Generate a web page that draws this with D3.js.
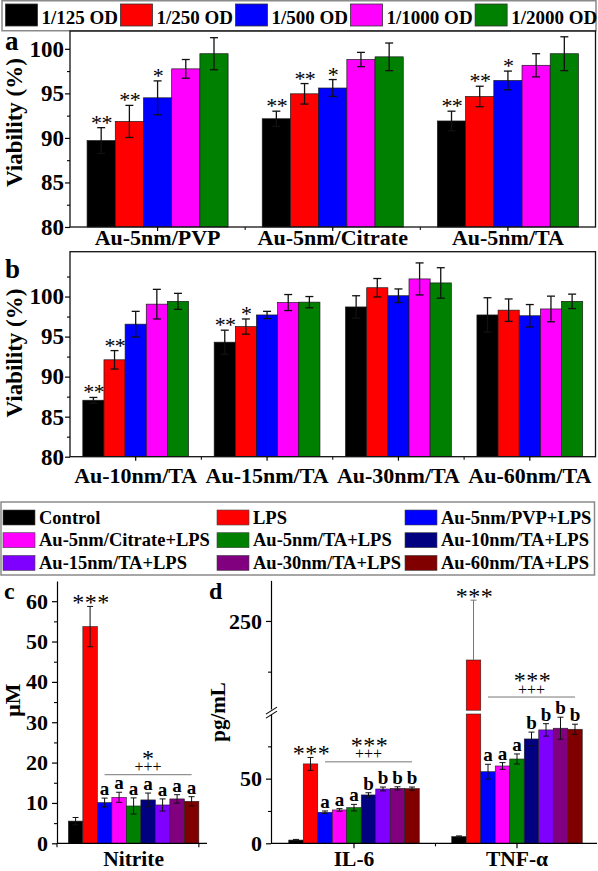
<!DOCTYPE html>
<html><head><meta charset="utf-8">
<script src="https://cdn.jsdelivr.net/npm/d3@7"></script>
<style>body{margin:0;background:#fff}svg{display:block}</style>
</head><body><svg id="c" width="598" height="871"></svg>
<script>
// ---------- data ----------
const odLabels = ["1/125 OD","1/250 OD","1/500 OD","1/1000 OD","1/2000 OD"];
const odColors = ["#000000","#ff0000","#0000ff","#ff00ff","#008000"];

const catsA = ["Au-5nm/PVP","Au-5nm/Citrate","Au-5nm/TA"];
const viabA = [[89.7,91.85,94.5,97.75,99.45],[92.15,94.95,95.6,98.8,99.1],[91.9,94.65,96.45,98.15,99.45]];
const errA  = [[1.45,1.8,1.9,1.05,1.8],[0.85,1.15,0.95,0.8,1.55],[1.1,1.15,1.05,1.3,1.9]];
const sigA  = [["**","**","*","",""],["**","**","*","",""],["**","**","*","",""]];

const catsB = ["Au-10nm/TA","Au-15nm/TA","Au-30nm/TA","Au-60nm/TA"];
const viabB = [[87.05,92.1,96.55,99.05,99.4],[94.3,96.25,97.7,99.25,99.3],[98.7,101.1,100.1,102.2,101.7],[97.7,98.3,97.6,98.45,99.4]];
const errB  = [[0.35,1.15,1.6,1.85,1.0],[1.5,0.95,0.45,1.0,0.7],[1.4,1.15,0.85,2.0,1.9],[2.15,1.4,1.4,1.6,0.9]];
const sigB  = [["**","**","","",""],["**","*","","",""],["","","","",""],["","","","",""]];
const viabTicks = [80,85,90,95,100];

const treatments = ["Control","LPS","Au-5nm/PVP+LPS","Au-5nm/Citrate+LPS","Au-5nm/TA+LPS","Au-10nm/TA+LPS","Au-15nm/TA+LPS","Au-30nm/TA+LPS","Au-60nm/TA+LPS"];
const treatColors = ["#000000","#ff0000","#0000ff","#ff00ff","#008000","#000080","#8000ff","#800080","#800000"];

const nitrite      = [5.5,53.7,10.1,11.4,9.25,10.75,9.5,11.0,10.4];
const nitriteErr   = [0.9,5.0,1.1,1.25,2.0,1.7,1.5,1.05,1.15];
const nitriteLetters = ["","","a","a","a","a","a","a","a"];
const nitriteGroup = {top:"*", mid:"+++", lineVal:17};

const cytokines = ["IL-6","TNF-α"];
const il6      = [2.5,61.4,24.0,25.8,27.6,37.4,42.0,42.5,42.3];
const il6Err   = [0.5,5.0,1.0,1.0,2.5,1.7,1.5,1.2,1.2];
const il6Letters = ["","","a","a","a","b","b","b","b"];
const il6Group = {top:"***", mid:"+++", lineVal:63};
const tnf      = [5.2,211.5,55.4,59.8,65.2,80.7,87.7,89.0,88.2];
const tnfErr   = [0.5,59.0,5.7,2.6,3.9,5.3,4.8,8.5,3.9];
const tnfLetters = ["","","a","a","a","b","b","b","b"];
const tnfGroup = {top:"***", mid:"+++", lineVal:175};

// ---------- drawing ----------
const F = "'Liberation Serif','Times New Roman',serif";
const svg = d3.select("#c").attr("font-family", F);

function txt(g, x, y, s, size, opt={}) {
  const t = g.append("text").attr("x",x).attr("y",y).attr("font-size",size)
    .attr("text-anchor",opt.anchor||"start").attr("font-weight",opt.bold===false?"normal":"bold").attr("fill","#000").text(s);
  if (opt.ls !== undefined) t.attr("letter-spacing",opt.ls);
  if (opt.rot) t.attr("transform",`rotate(-90,${x},${y})`);
  return t;
}

// top legend
(function(){
  const g = svg.append("g");
  g.append("rect").attr("x",2).attr("y",0.75).attr("width",594).attr("height",30).attr("fill","none").attr("stroke","#8a8a8a").attr("stroke-width",1.5);
  let x = 5.5;
  odLabels.forEach((l,i)=>{
    g.append("rect").attr("x",x).attr("y",4).attr("width",32).attr("height",22).attr("fill",odColors[i]).attr("stroke","#333").attr("stroke-width",0.8);
    const t = txt(g, x+36, 23.5, l, 19);
    x = x + 36 + t.node().getComputedTextLength() + 2.5;
  });
})();

function drawAB(cats, vals, errs, sigs, dom, L, R, T, B, labelPad, minorTicks) {
  const g = svg.append("g");
  const y = d3.scaleLinear(dom, [B, T]);
  const x = d3.scaleBand(cats, [L, R]);
  const bw = x.bandwidth();
  const xi = d3.scaleBand(d3.range(odLabels.length), [bw*0.0975, bw*0.9025]);
  cats.forEach((c,i)=>{
    vals[i].forEach((v,j)=>{
      const bx = x(c)+xi(j), w = xi.bandwidth(), cx = bx+w/2, e = errs[i][j];
      g.append("rect").attr("x",bx).attr("y",y(v)).attr("width",w).attr("height",y(dom[0])-y(v))
        .attr("fill",odColors[j]).attr("stroke","#1a1a1a").attr("stroke-width",0.7);
      const eg = g.append("g").attr("stroke","#111").attr("stroke-width",1.3);
      eg.append("line").attr("x1",cx).attr("x2",cx).attr("y1",y(v-e)).attr("y2",y(v+e));
      [v-e,v+e].forEach(t=>eg.append("line").attr("x1",cx-4).attr("x2",cx+4).attr("y1",y(t)).attr("y2",y(t)));
      if (sigs[i][j]) txt(g, cx+0.3, y(v+e)+2, sigs[i][j], 22, {anchor:"middle", bold:false, ls:-0.6});
    });
  });
  g.append("rect").attr("x",L).attr("y",T).attr("width",R-L).attr("height",B-T).attr("fill","none").attr("stroke","#111").attr("stroke-width",1.3);
  const ay = g.append("g").attr("transform",`translate(${L},0)`)
    .call(d3.axisLeft(y).tickValues(viabTicks).tickSize(5).tickPadding(1).tickFormat(d3.format("d")));
  ay.select(".domain").remove();
  ay.attr("font-family",F).attr("font-size",23).attr("font-weight","bold");
  ay.selectAll("line").attr("stroke-width",1.2);
  const am = g.append("g").attr("transform",`translate(${L},0)`)
    .call(d3.axisLeft(y).tickValues(minorTicks).tickSize(3).tickFormat(""));
  am.select(".domain").remove(); am.selectAll("line").attr("stroke-width",1.1);
  const ax = g.append("g").attr("transform",`translate(0,${B})`)
    .call(d3.axisBottom(x).tickSize(4).tickPadding(labelPad));
  ax.select(".domain").remove();
  ax.attr("font-family",F).attr("font-size",22).attr("font-weight","bold");
  ax.selectAll("line").attr("stroke-width",1.2);
  cats.slice(1).forEach(c=>g.append("line").attr("x1",x(c)).attr("x2",x(c)).attr("y1",B).attr("y2",B+3).attr("stroke","#111").attr("stroke-width",1.1));
  return g;
}

const gA = drawAB(catsA, viabA, errA, sigA, [80,102], 70, 595.5, 31, 227, -1.6, [82.5,87.5,92.5,97.5]);
txt(gA, 5, 50, "a", 27);
txt(gA, 22, 122.5, "Viability (%)", 23, {anchor:"middle", rot:true});

const gB = drawAB(catsB, viabB, errB, sigB, [80,105.6], 70, 595.5, 251.7, 456.7, 7, [82.5,87.5,92.5,97.5,102.5]);
txt(gB, 5, 278, "b", 27);
txt(gB, 22, 353, "Viability (%)", 23, {anchor:"middle", rot:true});

// second legend
(function(){
  const g = svg.append("g");
  g.append("rect").attr("x",1).attr("y",502).attr("width",593.5).attr("height",73).attr("fill","none").attr("stroke","#8a8a8a").attr("stroke-width",1.5);
  const cols = [3,217,405], rows = [510,532.7,555.4];
  treatments.forEach((t,i)=>{
    const cx = cols[i%3], ry = rows[Math.floor(i/3)];
    g.append("rect").attr("x",cx).attr("y",ry).attr("width",32).attr("height",15).attr("fill",treatColors[i]).attr("stroke","#444").attr("stroke-width",0.6);
    txt(g, cx+36, ry+13.5, t, 18.5);
  });
})();

const groupW = 130.5;
function barsGroup(g, center, vals, errs, letters, grp, y, brk) {
  const xb = d3.scaleBand(treatments, [center-groupW/2, center+groupW/2]);
  const w = xb.bandwidth();
  vals.forEach((v,k)=>{
    const bx = xb(treatments[k]), cx = bx+w/2, e = errs[k];
    const broken = brk && v > brk[0];
    const seg = (y1,y2)=>g.append("rect").attr("x",bx).attr("y",y1).attr("width",w).attr("height",y2-y1)
        .attr("fill",treatColors[k]).attr("stroke","#222").attr("stroke-width",0.6);
    if (broken) { seg(y(brk[0]), y(0)); seg(y(v), y(brk[1])); }
    else seg(y(v), y(0));
    const eg = g.append("g").attr("stroke", broken?"#777":"#111").attr("stroke-width",1);
    const lo = broken ? v : v-e;
    eg.append("line").attr("x1",cx).attr("x2",cx).attr("y1",y(lo)).attr("y2",y(v+e));
    (broken?[v+e]:[v-e,v+e]).forEach(t=>eg.append("line").attr("x1",cx-3).attr("x2",cx+3).attr("y1",y(t)).attr("y2",y(t)));
    if (letters[k]) txt(g, cx, y(v+e)-3, letters[k], 19, {anchor:"middle"});
    if (k===1) txt(g, cx+1, y(v+e)+4, "***", 24, {anchor:"middle", bold:false, ls:0.5});
  });
  const x1 = xb(treatments[2])+w/2, x2 = xb(treatments[8])+w/2, ly = y(grp.lineVal);
  g.append("line").attr("x1",x1).attr("x2",x2).attr("y1",ly).attr("y2",ly).attr("stroke","#777").attr("stroke-width",1);
  txt(g, (x1+x2)/2, ly-2.5, grp.mid, 16, {anchor:"middle", bold:false});
  txt(g, (x1+x2)/2 + (grp.top.length>1?1:0), ly-9, grp.top, 24, {anchor:"middle", bold:false, ls: grp.top.length>1?0.5:0});
}

// panel c
(function(){
  const g = svg.append("g");
  const y = d3.scaleLinear([0,65],[843.3,581]);
  const x = d3.scaleBand(["Nitrite"],[57,210.2]);
  const c = x("Nitrite")+x.bandwidth()/2;
  barsGroup(g, c, nitrite, nitriteErr, nitriteLetters, nitriteGroup, y, null);
  const ay = g.append("g").attr("transform","translate(57,0)")
    .call(d3.axisLeft(y).tickValues(d3.range(0,61,10)).tickSize(5).tickPadding(4).tickSizeOuter(0));
  ay.attr("font-family",F).attr("font-size",22).attr("font-weight","bold");
  ay.selectAll("line,path").attr("stroke-width",1.2);
  const am = g.append("g").attr("transform","translate(57,0)")
    .call(d3.axisLeft(y).tickValues(d3.range(5,61,10)).tickSize(3).tickFormat(""));
  am.select(".domain").remove(); am.selectAll("line").attr("stroke-width",1.1);
  const ax = g.append("g").attr("transform","translate(0,843.3)")
    .call(d3.axisBottom(x).tickSize(0).tickPadding(7.5));
  ax.select(".domain").remove();
  ax.attr("font-family",F).attr("font-size",21.5).attr("font-weight","bold");
  g.append("line").attr("x1",57).attr("x2",207).attr("y1",843.3).attr("y2",843.3).attr("stroke","#000").attr("stroke-width",1.2);
  [57, c+groupW/2].forEach(t=>g.append("line").attr("x1",t).attr("x2",t).attr("y1",843.3).attr("y2",847.3).attr("stroke","#000").attr("stroke-width",1.1));
  txt(g, 4, 599, "c", 24);
  txt(g, 20, 700, "μM", 22, {anchor:"middle", rot:true});
})();

// panel d
(function(){
  const g = svg.append("g");
  const yLow = d3.scaleLinear([0,100],[843.3,714]);
  const yUp = d3.scaleLinear([162,290],[710.2,580.4]);
  const brk = [100,162];
  const y = v => v <= brk[0] ? yLow(v) : yUp(Math.max(v, brk[1]));
  const x = d3.scaleBand(cytokines,[272.5,598.5]);
  barsGroup(g, x("IL-6")+x.bandwidth()/2, il6, il6Err, il6Letters, il6Group, y, brk);
  barsGroup(g, x("TNF-α")+x.bandwidth()/2, tnf, tnfErr, tnfLetters, tnfGroup, y, brk);
  const AX = 271;
  const a1 = g.append("g").attr("transform",`translate(${AX},0)`)
    .call(d3.axisLeft(yLow).tickValues([0,50]).tickSize(5).tickPadding(4).tickSizeOuter(0));
  const a2 = g.append("g").attr("transform",`translate(${AX},0)`)
    .call(d3.axisLeft(yUp).tickValues([250]).tickSize(5).tickPadding(4).tickSizeOuter(0));
  [a1,a2].forEach(a=>{a.attr("font-family",F).attr("font-size",22).attr("font-weight","bold"); a.selectAll("line,path").attr("stroke-width",1.2);});
  const m1 = g.append("g").attr("transform",`translate(${AX},0)`).call(d3.axisLeft(yLow).tickValues([25,75]).tickSize(3).tickFormat(""));
  const m2 = g.append("g").attr("transform",`translate(${AX},0)`).call(d3.axisLeft(yUp).tickValues([200]).tickSize(3).tickFormat(""));
  [m1,m2].forEach(m=>{m.select(".domain").remove(); m.selectAll("line").attr("stroke-width",1.1);});
  // break marks
  const yb = (yLow(brk[0])+yUp(brk[1]))/2;
  g.append("path").attr("d",`M${AX-5},${yb+1} L${AX+6},${yb-6} L${AX+6},${yb-2} L${AX-5},${yb+5} Z`).attr("fill","#fff");
  [-1,3].forEach(o=>g.append("line").attr("x1",AX-5).attr("y1",yb+3+o).attr("x2",AX+6).attr("y2",yb-4+o).attr("stroke","#000").attr("stroke-width",1.1));
  const ax = g.append("g").attr("transform","translate(0,843.3)")
    .call(d3.axisBottom(x).tickSize(5).tickPadding(2.5));
  ax.select(".domain").remove();
  ax.attr("font-family",F).attr("font-size",21.5).attr("font-weight","bold");
  ax.selectAll("line").attr("stroke-width",1.2);
  g.append("line").attr("x1",AX).attr("x2",597).attr("y1",843.3).attr("y2",843.3).attr("stroke","#000").attr("stroke-width",1.2);
  const mid = x("TNF-α");
  g.append("line").attr("x1",mid).attr("x2",mid).attr("y1",843.3).attr("y2",846.3).attr("stroke","#000").attr("stroke-width",1.1);
  txt(g, 209, 599, "d", 24);
  txt(g, 225, 712, "pg/mL", 21, {anchor:"middle", rot:true});
})();
</script></body></html>
